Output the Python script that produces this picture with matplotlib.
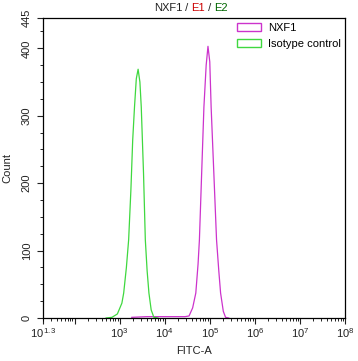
import numpy as np
import matplotlib.pyplot as plt
from matplotlib.patches import Patch
from matplotlib.ticker import FixedLocator, MultipleLocator

plt.rcParams['font.family'] = ['Liberation Sans', 'DejaVu Sans']
plt.rcParams['mathtext.fontset'] = 'custom'
plt.rcParams['mathtext.rm'] = 'Liberation Sans'
plt.rcParams['mathtext.it'] = 'Liberation Sans'

# curves: log10(FITC-A) vs count
iso_logx = [2.70, 2.83, 2.95, 3.05, 3.09, 3.15, 3.20, 3.25, 3.29, 3.33, 3.37, 3.41, 3.45, 3.48, 3.53, 3.57, 3.61, 3.65, 3.70, 3.76, 3.85]
iso_count = [0, 1, 6, 22, 37, 75, 116, 190, 264, 313, 355, 369, 350, 313, 215, 116, 70, 37, 12, 1, 0]

nxf_logx = [3.27, 3.6, 4.0, 4.3, 4.45, 4.54, 4.62, 4.69, 4.74, 4.77, 4.82, 4.87, 4.92, 4.96, 5.00, 5.03, 5.09, 5.15, 5.20, 5.24, 5.30, 5.35, 5.42]
nxf_count = [1, 2, 2, 2, 2, 3, 15, 37, 80, 116, 215, 313, 375, 403, 380, 313, 215, 116, 70, 37, 10, 1, 0]

title_parts = ['NXF1', ' / ', 'E1', ' / ', 'E2']
title_colors = ['#222222', '#222222', '#cc0000', '#222222', '#006600']

green = '#3fd83f'
magenta = '#cc33cc'

fig = plt.figure(figsize=(3.58, 3.61), dpi=100)
ax = fig.add_axes([43 / 358, 1 - 318 / 361, 302 / 358, 300 / 361])

ax.plot(10 ** np.array(nxf_logx), nxf_count, color=magenta, lw=0.9)
ax.plot(10 ** np.array(iso_logx), iso_count, color=green, lw=0.9)

ax.set_xscale('log')
ax.set_xlim(10 ** 1.3, 1e8)
ax.set_ylim(0, 445)

ax.xaxis.set_major_locator(FixedLocator([10 ** 1.3, 1e2, 1e3, 1e4, 1e5, 1e6, 1e7, 1e8]))
ax.set_xticklabels([r'$10^{\,1.3}$', '', r'$10^{3}$', r'$10^{4}$', r'$10^{5}$',
                    r'$10^{6}$', r'$10^{7}$', r'$10^{8}$'])
minors = [m * 10 ** d for d in range(1, 8) for m in range(2, 10)]
ax.xaxis.set_minor_locator(FixedLocator([v for v in minors if v > 10 ** 1.3]))
ax.set_yticks([0, 100, 200, 300, 400, 445])
ax.yaxis.set_minor_locator(MultipleLocator(25))
ax.tick_params(axis='y', labelrotation=90, labelsize=8, length=4, width=0.8, colors='#222222', pad=4)
ax.tick_params(axis='x', labelsize=8, length=4, width=0.8, colors='#222222', pad=2)
ax.tick_params(which='minor', length=2, width=0.6)
for lab in ax.get_yticklabels():
    lab.set_va('center')
for s in ax.spines.values():
    s.set_linewidth(0.9)

ax.set_xlabel('FITC-A', fontsize=8, labelpad=4, color='#222222')
ax.set_ylabel('Count', fontsize=8, labelpad=7, color='#222222')

handles = [Patch(facecolor='white', edgecolor=magenta, label='NXF1'),
           Patch(facecolor='white', edgecolor=green, label='Isotype control')]
fig.legend(handles=handles, loc='upper left', bbox_to_anchor=(237 / 358, 1 - 23 / 361),
           frameon=False, borderpad=0, borderaxespad=0,
           fontsize=8, handlelength=2.2, handleheight=0.65, handletextpad=0.6, labelspacing=0.55)

# title in three colours, pieces laid side by side
fig.canvas.draw()
r = fig.canvas.get_renderer()
y_t = 1 - 8 / 361
texts = [fig.text(0, y_t, t, color=c, fontsize=8, ha='left', va='center')
         for t, c in zip(title_parts, title_colors)]
widths = [t.get_window_extent(r).width for t in texts]
x0 = 191 - sum(widths) / 2
for t, w in zip(texts, widths):
    t.set_x(x0 / 358)
    x0 += w

fig.savefig('out.png', dpi=100)
